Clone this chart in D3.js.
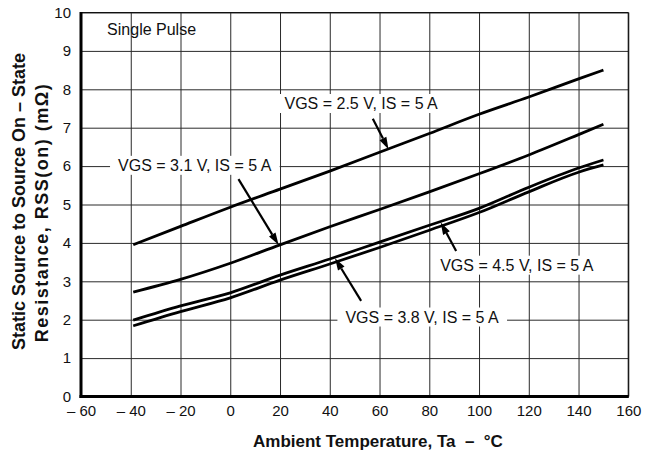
<!DOCTYPE html>
<html>
<head>
<meta charset="utf-8">
<script src="https://cdn.jsdelivr.net/npm/d3@7"></script>
<style>
  html, body { margin: 0; padding: 0; background: #fff; }
  svg { display: block; font-family: "Liberation Sans", Arial, Helvetica, sans-serif; }
</style>
</head>
<body>
<svg id="chart" width="652" height="460"></svg>
<script>
// Ambient temperature (°C) sample points along each curve
const temps = [-39, -20, 0, 20, 40, 60, 80, 100, 120, 140, 150];
// On-state resistance (mΩ) for each gate voltage, IS = 5 A
const rssVgs25 = [3.95, 4.43, 4.93, 5.40, 5.87, 6.36, 6.85, 7.35, 7.80, 8.27, 8.50];
const rssVgs31 = [2.72, 3.05, 3.47, 3.95, 4.42, 4.87, 5.33, 5.80, 6.29, 6.82, 7.09];
const rssVgs38 = [1.99, 2.36, 2.70, 3.16, 3.58, 4.02, 4.46, 4.90, 5.45, 5.95, 6.16];
const rssVgs45 = [1.84, 2.21, 2.57, 3.03, 3.45, 3.88, 4.33, 4.79, 5.33, 5.84, 6.03];

// Axis ticks
const xTicks = [-60, -40, -20, 0, 20, 40, 60, 80, 100, 120, 140, 160];
const xTickLabels = ["\u2013 60", "\u2013 40", "\u2013 20", "0", "20", "40", "60", "80", "100", "120", "140", "160"];
const yTicks = [0, 1, 2, 3, 4, 5, 6, 7, 8, 9, 10];
const yTickLabels = ["0", "1", "2", "3", "4", "5", "6", "7", "8", "9", "10"];

// Curve callouts: label centre and arrow tail/tip, in data units
const calloutText = ["VGS = 2.5 V, IS = 5 A", "VGS = 3.1 V, IS = 5 A", "VGS = 3.8 V, IS = 5 A", "VGS = 4.5 V, IS = 5 A"];
const calloutLabelAt = [[52.6, 7.63], [-14.3, 6.02], [77.1, 2.07], [115.2, 3.42]];
const calloutArrowFrom = [[57.3, 7.23], [3.3, 5.66], [52.6, 2.49], [90.8, 3.79]];
const calloutArrowTo = [[63.6, 6.44], [19.4, 3.95], [42.1, 3.60], [84.6, 4.53]];

const noteText = "Single Pulse";
const noteAt = [-49.5, 9.57];

const xTitle = "Ambient Temperature, Ta  \u2013  \u00B0C";
const yTitleLines = ["Static Source to Source On \u2013 State", "Resistance, RSS(on) (m\u03A9)"];

const svg = d3.select("#chart");
const plotLeft = 81, plotRight = 628.3, plotTop = 12.5, plotBottom = 396.5;

const x = d3.scaleLinear().domain([-60, 160]).range([plotLeft, plotRight]);
const y = d3.scaleLinear().domain([0, 10]).range([plotBottom, plotTop]);

// Grid via axes
const gridX = svg.append("g")
  .attr("transform", `translate(0,${plotBottom})`)
  .call(d3.axisBottom(x).tickValues(xTicks).tickSize(-(plotBottom - plotTop)).tickPadding(6)
    .tickFormat((d, i) => xTickLabels[i]));
const gridY = svg.append("g")
  .attr("transform", `translate(${plotLeft},0)`)
  .call(d3.axisLeft(y).tickValues(yTicks).tickSize(-(plotRight - plotLeft)).tickPadding(10)
    .tickFormat((d, i) => yTickLabels[i]));

[gridX, gridY].forEach(g => {
  g.select(".domain").remove();
  g.selectAll(".tick line").attr("stroke", "#2a2a2a").attr("stroke-width", 1);
  g.selectAll(".tick text").attr("fill", "#111").style("font-size", "15px")
    .style("font-family", "'Liberation Sans', Arial, sans-serif");
});
gridX.selectAll(".tick text").attr("dy", "0.9em");

// Frame: thick left/bottom axes, thin top/right borders
svg.append("line").attr("x1", x(-60)).attr("x2", x(160)).attr("y1", y(10)).attr("y2", y(10))
  .attr("stroke", "#111").attr("stroke-width", 1.2);
svg.append("line").attr("x1", x(160)).attr("x2", x(160)).attr("y1", y(10)).attr("y2", y(0))
  .attr("stroke", "#111").attr("stroke-width", 1.2);
svg.append("line").attr("x1", x(-60)).attr("x2", x(-60)).attr("y1", y(10) - 0.5).attr("y2", y(0) + 1.5)
  .attr("stroke", "#000").attr("stroke-width", 3);
svg.append("line").attr("x1", x(-60) - 1.5).attr("x2", x(160) + 0.5).attr("y1", y(0)).attr("y2", y(0))
  .attr("stroke", "#000").attr("stroke-width", 3);

// Callout label boxes (white, hiding the grid behind the text)
const labelLayer = svg.append("g");
const curveLayer = svg.append("g");
const arrowLayer = svg.append("g");
const textLayer = svg.append("g");

calloutText.forEach((t, i) => {
  const txt = textLayer.append("text")
    .attr("x", x(calloutLabelAt[i][0]))
    .attr("y", y(calloutLabelAt[i][1]))
    .attr("text-anchor", "middle")
    .attr("dominant-baseline", "central")
    .style("font-size", "16px")
    .attr("fill", "#111")
    .text(t);
  const bb = txt.node().getBBox();
  labelLayer.append("rect")
    .attr("x", bb.x - 8).attr("y", bb.y - 1)
    .attr("width", bb.width + 16).attr("height", bb.height + 2)
    .attr("fill", "#fff");
});

textLayer.append("text")
  .attr("x", x(noteAt[0])).attr("y", y(noteAt[1]))
  .attr("dominant-baseline", "central")
  .style("font-size", "16px").attr("fill", "#111")
  .text(noteText);

// Curves
const line = d3.line().x(d => x(d[0])).y(d => y(d[1])).curve(d3.curveMonotoneX);
[rssVgs25, rssVgs31, rssVgs38, rssVgs45].forEach(vals => {
  curveLayer.append("path")
    .datum(temps.map((t, i) => [t, vals[i]]))
    .attr("d", line)
    .attr("fill", "none")
    .attr("stroke", "#000")
    .attr("stroke-width", 2.8);
});

// Arrows with filled heads
calloutArrowFrom.forEach((from, i) => {
  const to = calloutArrowTo[i];
  const x0 = x(from[0]), y0 = y(from[1]), x1 = x(to[0]), y1 = y(to[1]);
  const ang = Math.atan2(y1 - y0, x1 - x0);
  const headLen = 12, headHalf = 3.8;
  const bx = x1 - headLen * Math.cos(ang), by = y1 - headLen * Math.sin(ang);
  arrowLayer.append("line")
    .attr("x1", x0).attr("y1", y0).attr("x2", bx).attr("y2", by)
    .attr("stroke", "#000").attr("stroke-width", 2.2);
  const px = -Math.sin(ang) * headHalf, py = Math.cos(ang) * headHalf;
  arrowLayer.append("path")
    .attr("d", `M${x1},${y1}L${bx + px},${by + py}L${bx - px},${by - py}Z`)
    .attr("fill", "#000");
});

// X axis title
svg.append("text")
  .attr("x", 253).attr("y", 441)
  .attr("dominant-baseline", "central")
  .attr("xml:space", "preserve")
  .style("white-space", "pre")
  .style("font-size", "17px").style("font-weight", "bold")
  .attr("fill", "#111")
  .text(xTitle);

// Y axis title on two rotated lines
const yTitleX = [19, 42];
const yTitleY = [201.5, 212.5];
const yTitleSpacing = [0, 1.5];
yTitleLines.forEach((t, i) => {
  svg.append("text")
    .attr("transform", `translate(${yTitleX[i]},${yTitleY[i]}) rotate(-90)`)
    .attr("text-anchor", "middle").attr("dominant-baseline", "central")
    .style("font-size", "18px").style("font-weight", "bold")
    .style("letter-spacing", yTitleSpacing[i] + "px")
    .attr("fill", "#111")
    .text(t);
});
</script>
</body>
</html>
